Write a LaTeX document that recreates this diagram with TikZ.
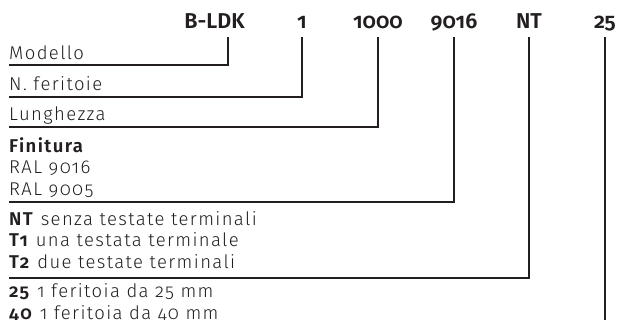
\documentclass[tikz,border=0pt]{standalone}
\usepackage{fontspec}
\setmainfont{Fira Sans Light}[BoldFont={Fira Sans SemiBold},Numbers=OldStyle]
\usetikzlibrary{positioning}
\definecolor{ink}{HTML}{231F20}
\tikzset{
  codetxt/.style={font=\fontsize{21.5}{24}\selectfont\bfseries,text=ink,anchor=base,inner xsep=0pt,inner ysep=8pt,text depth=0pt},
  fieldtxt/.style={font=\fontsize{18.5}{21.4}\addfontfeatures{LetterSpace=7.5}\selectfont,text=ink,anchor=base west,inner sep=0pt,align=left},
  leader/.style={draw=ink,line width=1.5pt}
}
\begin{document}
\begin{tikzpicture}[x=1pt,y=-1pt]
    \clip (0,0) rectangle (617,320);
    \fill[white] (0,0) rectangle (617,320);

    % codice
    \node[codetxt] (model) at (214.5,29) {B-LDK};
    \node[codetxt] (slots) at (302,29) {1};
    \node[codetxt] (len) at (378,29) {1000};
    \node[codetxt] (ral) at (454,29) {9016};
    \node[codetxt] (ends) at (529,29) {NT};
    \node[codetxt] (slotw) at (605,29) {25};

    % voci (ancorate all'ultima riga)
    \node[fieldtxt] (tmodel) at (9,60) {Modello};
    \node[fieldtxt] (tslots) at (9,91) {N. feritoie};
    \node[fieldtxt] (tlen) at (9,121) {Lunghezza};
    \node[fieldtxt] (tral) at (9,195) {\textbf{Finitura}\\RAL 9016\\RAL 9005};
    \node[fieldtxt] (tends) at (9,268) {\textbf{NT} senza testate terminali\\\textbf{T1} una testata terminale\\\textbf{T2} due testate terminali};
    \node[fieldtxt] (tslotw) at (9,319) {\textbf{25} 1 feritoia da 25 mm\\\textbf{40} 1 feritoia da 40 mm};

    \coordinate (emodel) at (9,65);
    \coordinate (eslots) at (9,97);
    \coordinate (elen) at (9,127);
    \coordinate (eral) at (9,202);
    \coordinate (eends) at (9,278);
    \coordinate (eslotw) at (605,322);

    \draw[leader] ([xshift=13.5pt]model.south) |- (emodel);
    \draw[leader] (slots.south) |- (eslots);
    \draw[leader] (len.south) |- (elen);
    \draw[leader] (ral.south) |- (eral);
    \draw[leader] (ends.south) |- (eends);
    \draw[leader] (slotw.south) -- (eslotw);
\end{tikzpicture}
\end{document}
